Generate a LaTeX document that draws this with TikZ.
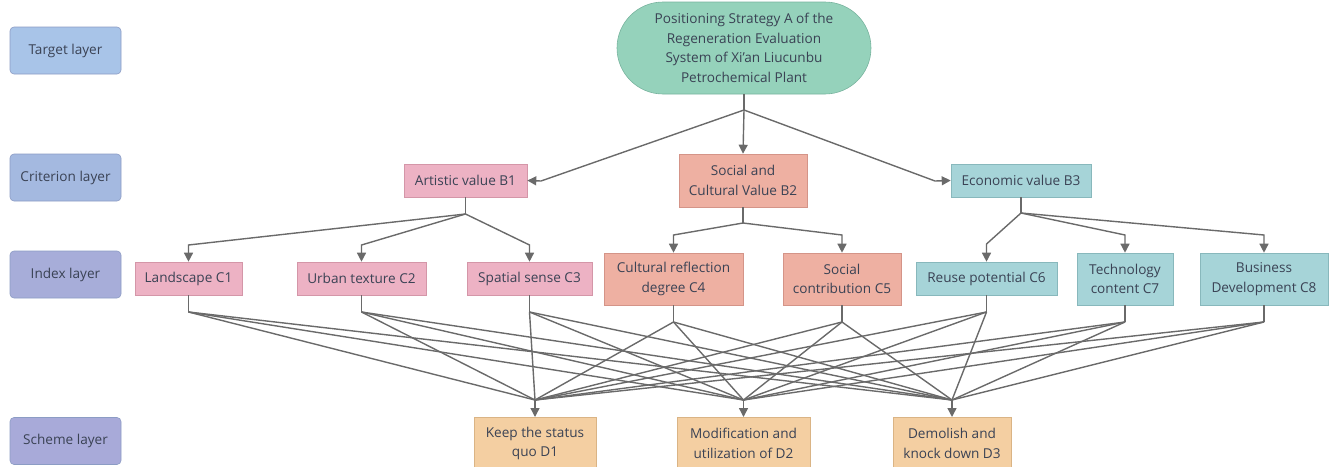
\documentclass[tikz,border=0pt]{standalone}
\usepackage{fontspec}
\setmainfont{Open Sans}
\usetikzlibrary{arrows.meta,shapes.misc}
\definecolor{layerA}{HTML}{A8C4E8}
\definecolor{layerB}{HTML}{A4B9E0}
\definecolor{layerC}{HTML}{A7ADD9}
\definecolor{layerD}{HTML}{A8AAD9}
\definecolor{layerline}{HTML}{8C9CC4}
\definecolor{topfill}{HTML}{95D2BB}
\definecolor{topline}{HTML}{78B39E}
\definecolor{pinkfill}{HTML}{EDB2C4}
\definecolor{pinkline}{HTML}{D496A8}
\definecolor{salfill}{HTML}{EEB0A2}
\definecolor{salline}{HTML}{D49488}
\definecolor{tealfill}{HTML}{A6D4D8}
\definecolor{tealline}{HTML}{88B8BC}
\definecolor{orfill}{HTML}{F4CFA2}
\definecolor{orline}{HTML}{DAB485}
\definecolor{txt}{HTML}{3A4254}
\definecolor{conn}{HTML}{6A6A6A}
\tikzset{
  txtfont/.style={font=\fontsize{13.6}{19.5}\selectfont, text=txt},
  layerbox/.style={txtfont, rounded corners=4pt, draw=layerline, line width=0.6pt, minimum width=111pt, minimum height=47pt, inner sep=0pt},
  cbox/.style={txtfont, draw, line width=0.6pt, inner sep=0pt, align=center},
  pinkbox/.style={cbox, fill=pinkfill, draw=pinkline},
  salbox/.style={cbox, fill=salfill, draw=salline},
  tealbox/.style={cbox, fill=tealfill, draw=tealline},
  orbox/.style={cbox, fill=orfill, draw=orline},
  link/.style={draw=conn, line width=1.4pt},
  arr/.style={link, -{Triangle[length=9pt,width=9pt]}},
}
\begin{document}
\begin{tikzpicture}[x=1pt,y=-1pt]
\useasboundingbox (0,0) rectangle (1333,466);
% layer labels
\node[layerbox, fill=layerA] (L1) at (65.5,50.5) {Target layer};
\node[layerbox, fill=layerB] (L2) at (65.5,177.5) {Criterion layer};
\node[layerbox, fill=layerC] (L3) at (65.5,274.5) {Index layer};
\node[layerbox, fill=layerD] (L4) at (65.5,441) {Scheme layer};
% top
\node[txtfont, rounded rectangle, fill=topfill, draw=topline, line width=0.6pt, minimum width=254pt, minimum height=92pt, inner sep=0pt, align=center] (A) at (744,48)
  {Positioning Strategy A of the\\Regeneration Evaluation\\System of Xi'an Liucunbu\\Petrochemical Plant};
% criterion
\node[pinkbox, minimum width=123pt, minimum height=33pt] (B1) at (465.5,180.5) {Artistic value B1};
\node[salbox, minimum width=128pt, minimum height=53pt] (B2) at (743,180.5) {Social and\\Cultural Value B2};
\node[tealbox, minimum width=140pt, minimum height=33pt] (B3) at (1021,180.5) {Economic value B3};
% index
\node[pinkbox, minimum width=107pt, minimum height=33pt] (C1) at (188.5,278.5) {Landscape C1};
\node[pinkbox, minimum width=129pt, minimum height=33pt] (C2) at (361.5,278.5) {Urban texture C2};
\node[pinkbox, minimum width=125pt, minimum height=33pt] (C3) at (529.5,278.5) {Spatial sense C3};
\node[salbox, minimum width=139pt, minimum height=52pt] (C4) at (673.5,279) {Cultural reflection\\degree C4};
\node[salbox, minimum width=118pt, minimum height=52pt] (C5) at (842,279) {Social\\contribution C5};
\node[tealbox, minimum width=141pt, minimum height=33pt] (C6) at (986.5,278.5) {Reuse potential C6};
\node[tealbox, minimum width=96pt, minimum height=52pt] (C7) at (1125,279) {Technology\\content C7};
\node[tealbox, minimum width=128pt, minimum height=52pt] (C8) at (1264,279) {Business\\Development C8};
% scheme
\node[orbox, minimum width=122pt, minimum height=52pt, anchor=north] (D1) at (535,417) {Keep the status\\quo D1};
\node[orbox, minimum width=133pt, minimum height=52pt, anchor=north] (D2) at (743.5,417) {Modification and\\utilization of D2};
\node[orbox, minimum width=118pt, minimum height=52pt, anchor=north] (D3) at (952,417) {Demolish and\\knock down D3};
% junctions
\coordinate (jA) at (744,110);
\coordinate (kB1) at (541,181);
\coordinate (kB3) at (935,181);
\coordinate (jB1) at (465.5,214);
\coordinate (jB2) at (743,223);
\coordinate (jB3) at (1021,213);
\coordinate (kC1) at (188.5,245);
\coordinate (kC2) at (361.5,245);
\coordinate (kC3) at (529.5,245);
\coordinate (kC4) at (673.5,235);
\coordinate (kC5) at (842,235);
\coordinate (kC6) at (986.5,244);
\coordinate (kC7) at (1125,235);
\coordinate (kC8) at (1264,235);
\coordinate (jC1) at (188.5,312);
\coordinate (jC2) at (361.5,312);
\coordinate (jC3) at (529.5,312);
\coordinate (jC4) at (673.5,322);
\coordinate (jC5) at (842,322);
\coordinate (jC6) at (986.5,312);
\coordinate (jC7) at (1125,322);
\coordinate (jC8) at (1264,322);
\coordinate (jD1) at (535,400);
\coordinate (jD2) at (743.5,400);
\coordinate (jD3) at (952,400);
% A -> B
\draw[link] (A.south) -- (jA);
\draw[arr] (jA) -- (kB1) -- (B1.east);
\draw[arr] (jA) -- (B2.north);
\draw[arr] (jA) -- (kB3) -- (B3.west);
% B -> C
\draw[link] (B1.south) -- (jB1);
\draw[link] (B2.south) -- (jB2);
\draw[link] (B3.south) -- (jB3);
\draw[arr] (jB1) -- (kC1) -- (C1.north);
\draw[arr] (jB1) -- (kC2) -- (C2.north);
\draw[arr] (jB1) -- (kC3) -- (C3.north);
\draw[arr] (jB2) -- (kC4) -- (C4.north);
\draw[arr] (jB2) -- (kC5) -- (C5.north);
\draw[arr] (jB3) -- (kC6) -- (C6.north);
\draw[arr] (jB3) -- (kC7) -- (C7.north);
\draw[arr] (jB3) -- (kC8) -- (C8.north);
% C -> D
\foreach \c in {1,...,8}{
  \draw[link] (C\c.south) -- (jC\c);
  \foreach \d in {1,2,3}{
    \draw[link] (jC\c) -- (jD\d);
  }
}
\foreach \d in {1,2,3}{
  \draw[arr] (jD\d) -- (D\d.north);
}
\end{tikzpicture}
\end{document}
